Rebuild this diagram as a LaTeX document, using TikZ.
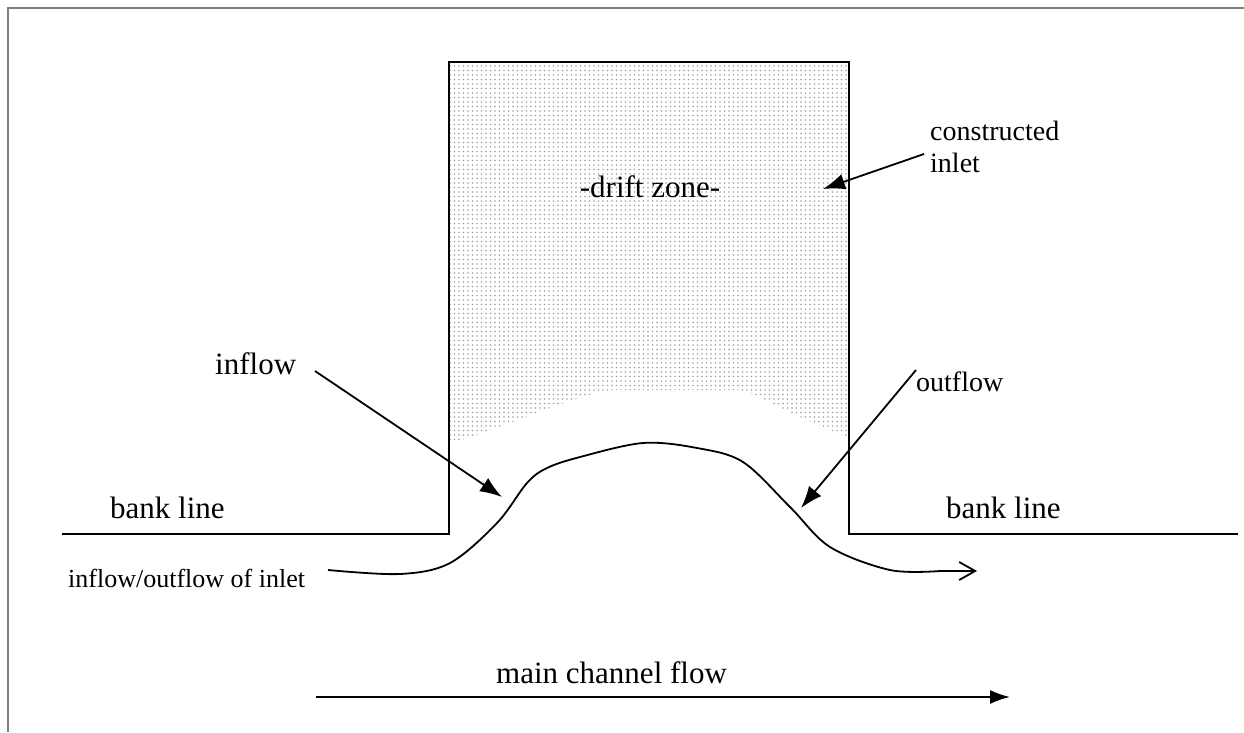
\documentclass[tikz,border=0pt]{standalone}
\usepackage{fontspec}
\setmainfont{Liberation Serif}
\usetikzlibrary{arrows.meta,patterns.meta}
\begin{document}
\begin{tikzpicture}[x=1pt,y=-1pt,
  lbl/.style={inner sep=0pt,font=\fontsize{31}{34}\selectfont,anchor=base west},
  lblmid/.style={inner sep=0pt,font=\fontsize{28}{31}\selectfont,anchor=base west},
  lblsmall/.style={inner sep=0pt,font=\fontsize{26}{29}\selectfont,anchor=base west},
  pointer/.style={line width=1.8pt,-{Latex[length=22pt,width=16pt]}},
  wall/.style={line width=2pt},
  frame/.style={draw=gray,line width=2.5pt}]
\useasboundingbox (0,0) rectangle (1244,732);
% frame
\draw[frame] (8,732) -- (8,8) -- (1244,8);
% shaded drift zone
\fill[pattern={Dots[distance=4.5pt,radius=0.95pt]},pattern color=gray!75] (450,62) -- (849,62) -- (849,437)
  .. controls (800,420) and (770,400) .. (740,390)
  -- (610,390)
  .. controls (560,400) and (500,430) .. (450,443) -- cycle;
% inlet walls and bank lines
\draw[wall] (62,534) -- (449,534) -- (449,62) -- (849,62) -- (849,534) -- (1238,534);
% texts
\node[lbl,anchor=base] (drift) at (650,197) {-drift zone-};
\node[lblmid] (constructed) at (930,140) {constructed};
\node[lblmid] (inlet) at (930,172) {inlet};
\node[lbl] (inflow) at (215,374) {inflow};
\node[lblmid] (outflow) at (916,391) {outflow};
\node[lbl] (bankL) at (110,518) {bank line};
\node[lbl] (bankR) at (946,518) {bank line};
\node[lblsmall] (io) at (68,587) {inflow/outflow of inlet};
\node[lbl] (main) at (496,683) {main channel flow};
% flow curve
\coordinate (fs) at (328,570);
\coordinate (fe) at (977,571);
\draw[line width=1.8pt,-{Straight Barb[length=16pt,width=18pt,line width=1.8pt]}]
  plot[smooth,tension=0.55] coordinates {(328,570) (400,574) (450,563) (497,523) (527,483) (547,468) (580,457) (643,443) (697,448) (743,462) (790,507) (830,547) (890,570) (940,571)} -- (fe);
% pointers
\coordinate (ci) at (823,189);
\coordinate (ii) at (502,497);
\coordinate (oi) at (801,508);
\draw[pointer] (924,154) -- (ci);
\draw[pointer] (315,371) -- (ii);
\draw[pointer] (916,370) -- (oi);
% main channel arrow
\coordinate (ms) at (316,697);
\coordinate (me) at (1010,697);
\draw[line width=1.8pt,-{Latex[length=20pt,width=14pt]}] (ms) -- (me);
\end{tikzpicture}
\end{document}
